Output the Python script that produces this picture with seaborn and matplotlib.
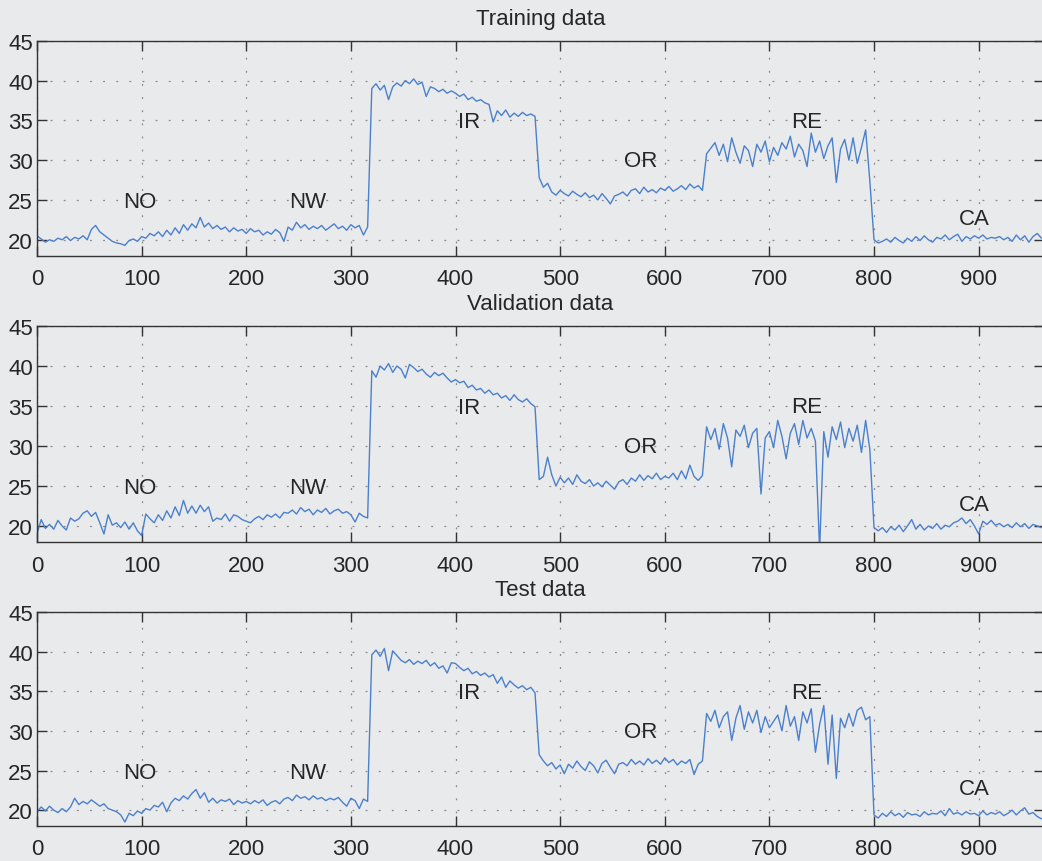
import numpy as np
import pandas as pd
import matplotlib
matplotlib.use("Agg")
import matplotlib.pyplot as plt
import seaborn as sns

# ---------------- data (one value every 4 samples) ----------------
sample_index = list(range(0, 961, 4))

training = [
    20.5, 20.1, 19.7, 20.0, 19.8, 20.2, 20.0, 20.4, 19.9, 20.3, 20.1, 20.5, 20.0, 21.3, 21.8, 21.0, 20.6, 20.2, 19.8, 19.6,
    19.5, 19.3, 19.9, 20.1, 19.8, 20.4, 20.2, 20.8, 20.5, 21.0, 20.4, 21.2, 20.6, 21.5, 20.8, 21.9, 21.2, 22.0, 21.5, 22.8,
    21.6, 22.1, 21.4, 21.8, 21.3, 21.6, 21.0, 21.5, 21.1, 21.3, 20.8, 21.4, 21.0, 21.2, 20.6, 21.0, 20.7, 21.3, 20.9, 19.8,
    21.6, 21.2, 22.2, 21.5, 21.9, 21.3, 21.7, 21.4, 21.8, 21.2, 21.6, 22.0, 21.4, 21.7, 21.2, 21.9, 21.5, 21.8, 20.6, 21.6,
    39.0, 39.6, 38.8, 39.4, 37.6, 39.2, 39.7, 39.3, 40.0, 39.6, 40.2, 39.5, 39.8, 38.0, 39.2, 39.0, 38.6, 38.9, 38.4, 38.7,
    38.4, 38.0, 38.3, 37.6, 37.9, 37.4, 37.6, 37.2, 37.0, 34.8, 36.2, 35.6, 36.3, 35.4, 35.9, 35.5, 36.0, 35.6, 35.8, 35.5,
    27.8, 26.6, 27.1, 26.0, 25.6, 26.2, 25.8, 25.5, 26.1, 25.7, 25.4, 25.9, 25.3, 25.6, 25.0, 25.8, 25.2, 24.5, 25.5, 25.7,
    26.0, 25.5, 26.2, 26.4, 25.8, 26.6, 26.0, 26.3, 25.9, 26.5, 26.2, 26.7, 26.1, 26.4, 26.8, 26.3, 27.0, 26.5, 26.8, 26.2,
    30.8, 31.5, 32.2, 30.6, 32.0, 29.8, 32.8, 31.0, 29.6, 31.8, 31.2, 29.2, 32.0, 31.0, 32.4, 29.8, 31.6, 30.6, 32.2, 31.4,
    33.0, 30.4, 32.0, 31.2, 29.2, 33.4, 31.0, 32.4, 30.2, 31.8, 32.8, 27.2, 31.4, 32.6, 30.0, 32.8, 29.6, 31.6, 33.8, 27.4,
    20.0, 19.6, 19.8, 20.1, 19.7, 20.3, 19.9, 19.6, 20.2, 19.8, 20.4, 19.9, 20.5, 20.0, 19.7, 20.3, 20.1, 20.6, 20.0, 20.4,
    20.7, 19.8, 20.4, 20.1, 20.5, 20.2, 20.6, 20.1, 20.3, 20.2, 20.4, 20.0, 20.3, 19.8, 20.6, 20.0, 20.5, 19.7, 20.4, 20.8, 20.2,
]

validation = [
    19.0, 20.8, 19.7, 20.2, 19.6, 20.7, 20.0, 19.5, 21.0, 20.6, 20.9, 21.6, 21.9, 21.2, 21.7, 20.4, 19.0, 21.4, 20.1, 20.4,
    19.8, 20.5, 19.6, 20.4, 19.4, 18.8, 21.5, 20.9, 20.4, 21.4, 20.7, 21.9, 21.0, 22.4, 21.3, 23.2, 21.6, 22.5, 21.6, 22.6,
    21.8, 22.4, 20.6, 21.0, 20.8, 21.5, 20.6, 21.4, 21.2, 20.8, 20.6, 20.4, 20.9, 21.2, 20.8, 21.4, 21.1, 21.5, 21.0, 21.7,
    21.6, 22.0, 21.5, 22.3, 21.8, 22.1, 21.4, 22.0, 21.7, 22.2, 21.5, 21.9, 22.1, 21.6, 21.8, 21.4, 20.5, 21.6, 21.2, 21.0,
    39.4, 38.6, 40.0, 39.5, 40.3, 39.2, 40.0, 39.6, 38.5, 40.2, 39.8, 39.3, 39.6, 39.0, 38.6, 39.2, 38.8, 39.1, 38.5, 38.0,
    38.3, 37.9, 38.1, 37.3, 37.6, 37.0, 37.2, 36.6, 37.0, 36.4, 36.6, 36.0, 36.3, 35.7, 36.4, 35.8, 35.5, 35.9, 35.3, 34.9,
    25.8, 26.2, 28.6, 26.4, 25.0, 26.1, 25.4, 26.0, 25.2, 26.4, 25.6, 25.3, 25.8, 25.0, 25.4, 24.9, 25.6, 25.1, 24.6, 25.5,
    25.8, 25.2, 26.0, 25.6, 26.4, 25.7, 26.3, 25.9, 26.6, 25.8, 26.2, 26.0, 26.6, 25.8, 26.9, 25.9, 27.6, 26.2, 25.7, 26.3,
    32.4, 30.8, 32.2, 29.6, 32.8, 31.0, 27.4, 32.0, 31.2, 32.6, 29.8, 31.6, 32.2, 24.0, 31.0, 31.8, 29.8, 33.2, 31.2, 28.4,
    31.6, 32.8, 30.2, 33.2, 31.0, 32.2, 30.6, 17.0, 31.8, 28.6, 32.4, 30.8, 33.0, 29.8, 32.2, 30.6, 32.6, 29.2, 33.2, 29.6,
    19.8, 19.4, 19.8, 19.2, 19.9, 19.5, 20.1, 19.3, 20.0, 20.8, 19.6, 20.2, 19.5, 20.0, 19.7, 20.3, 19.6, 20.1, 19.9, 20.4,
    20.6, 21.0, 20.3, 20.8, 20.0, 19.0, 20.6, 20.2, 20.7, 20.1, 20.3, 19.9, 20.2, 19.8, 20.4, 19.9, 20.3, 19.7, 20.2, 20.0, 19.8,
]

test = [
    19.8, 20.4, 19.9, 20.5, 20.0, 19.7, 20.2, 19.8, 20.4, 21.5, 20.7, 21.1, 20.8, 21.3, 20.9, 20.5, 20.8, 20.2, 20.0, 19.8,
    19.4, 18.5, 19.6, 19.3, 19.9, 19.6, 20.2, 20.0, 20.6, 20.4, 21.0, 19.8, 20.9, 21.5, 21.2, 21.8, 21.4, 22.1, 22.6, 21.5,
    22.2, 21.0, 21.5, 20.9, 21.3, 21.1, 21.4, 20.7, 21.2, 20.9, 21.1, 20.8, 21.2, 20.9, 21.3, 20.6, 21.0, 21.2, 20.8, 21.4,
    21.6, 21.2, 21.9, 21.5, 21.7, 21.3, 21.8, 21.4, 21.6, 21.2, 21.5, 21.3, 21.6, 21.0, 20.5, 21.5, 21.2, 20.2, 21.4, 21.1,
    39.6, 40.2, 39.4, 40.4, 37.6, 40.1, 39.5, 38.9, 38.6, 39.0, 38.4, 38.8, 38.5, 38.9, 38.2, 38.6, 37.9, 38.2, 37.3, 38.6,
    38.5, 38.0, 37.6, 37.9, 37.2, 37.5, 37.0, 37.3, 36.8, 37.1, 36.0, 36.8, 35.5, 36.3, 35.8, 35.4, 35.7, 35.2, 35.5, 34.8,
    27.0, 26.2, 25.6, 26.0, 25.2, 25.7, 24.6, 25.8, 25.3, 26.2, 25.5, 25.0, 26.1, 25.6, 24.7, 25.9, 26.3, 25.4, 24.6, 25.8,
    26.0, 25.6, 26.4, 25.8, 26.2, 25.7, 26.5, 25.9, 26.3, 25.8, 26.6, 26.0, 26.4, 25.7, 26.2, 25.9, 26.4, 24.5, 25.8, 26.2,
    32.2, 31.2, 32.6, 30.4, 31.8, 32.4, 28.8, 31.6, 33.2, 30.2, 32.4, 31.0, 32.6, 29.8, 31.8, 30.4, 31.2, 32.0, 30.0, 33.2,
    30.6, 31.8, 28.8, 32.4, 31.0, 32.8, 27.3, 30.8, 33.2, 25.8, 32.0, 24.0, 31.6, 30.4, 32.2, 30.6, 32.6, 33.0, 31.4, 31.8,
    19.4, 19.0, 19.6, 19.2, 19.8, 19.3, 19.6, 19.1, 19.7, 19.4, 19.5, 19.2, 19.8, 19.4, 19.6, 19.5, 19.9, 19.3, 20.2, 19.5,
    19.7, 19.4, 19.8, 19.5, 19.6, 19.3, 19.9, 19.4, 19.7, 19.5, 19.8, 19.3, 19.6, 20.0, 19.4, 19.9, 20.3, 19.5, 19.7, 19.2, 18.9,
]

panel_titles = ["Training data", "Validation data", "Test data"]
state_labels = ["NO", "NW", "IR", "OR", "RE", "CA"]
state_label_x = [98, 259, 413, 577, 736, 896]
state_label_y = [24.8, 24.8, 34.8, 29.9, 34.9, 22.7]
x_ticks = [0, 100, 200, 300, 400, 500, 600, 700, 800, 900]
y_ticks = [20, 25, 30, 35, 40, 45]

# ---------------- styling ----------------
sns.set_theme(style="ticks")
bg = "#e9eaec"
txt = "#262626"
line_col = "#4a80cc"
plt.rcParams["font.family"] = ["Liberation Sans", "DejaVu Sans"]

W, H = 1042, 862
fig = plt.figure(figsize=(W / 100, H / 100), dpi=100, facecolor=bg)

# axes boxes in pixels: (top, bottom)
boxes = [(41.7, 256.7), (327.0, 543.0), (613.0, 827.0)]
left_px, right_px = 37.0, 1043.5

series = [training, validation, test]
for k, (top, bot) in enumerate(boxes):
    ax = fig.add_axes([left_px / W, 1 - bot / H, (right_px - left_px) / W, (bot - top) / H])
    ax.set_facecolor(bg)
    df = pd.DataFrame({"sample": sample_index, "value": series[k]})
    sns.lineplot(data=df, x="sample", y="value", ax=ax, color=line_col,
                 linewidth=1.0, estimator=None, legend=False)
    ax.set_xlim(0, 962)
    ax.set_ylim(18, 45)
    ax.set_xticks(x_ticks)
    ax.set_yticks(y_ticks)
    ax.set_xlabel("")
    ax.set_ylabel("")
    ax.grid(True, color="#8a8a8a", linestyle=(0, (1.5, 9)), linewidth=0.9)
    ax.tick_params(direction="in", length=7, width=1.0, color="#333333",
                   top=True, right=True, labelsize=16, labelcolor=txt)
    ax.tick_params(axis="y", pad=3)
    ax.tick_params(axis="x", pad=9)
    for s in ax.spines.values():
        s.set_color("#333333")
        s.set_linewidth(1.0)
    ax.set_title(panel_titles[k], fontsize=16, color=txt, pad=12)
    for lab, lx, ly in zip(state_labels, state_label_x, state_label_y):
        ax.text(lx, ly, lab, fontsize=16, color=txt, ha="center", va="center")

fig.savefig("out.png", dpi=100, facecolor=bg)
